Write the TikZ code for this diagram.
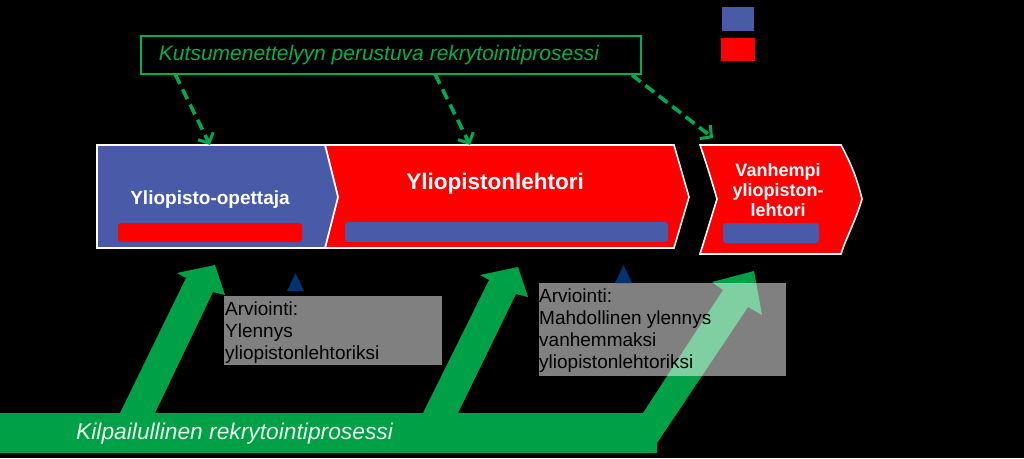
\documentclass[tikz,border=0pt]{standalone}
\usepackage{fontspec}
\setmainfont{Liberation Sans}
\usetikzlibrary{arrows.meta,calc}
\definecolor{pblue}{RGB}{72,90,168}
\definecolor{pred}{RGB}{255,0,0}
\definecolor{pgreen}{RGB}{0,160,70}
\definecolor{tgreen}{RGB}{0,176,80}
\definecolor{dgreen}{RGB}{0,168,80}
\definecolor{navy}{RGB}{0,51,112}
\definecolor{ktext}{RGB}{232,246,236}
\tikzset{
  chev/.style={draw=white, line width=1.6pt, line join=miter},
  bar/.style={rounded corners=3pt},
  whitelbl/.style={text=white, font=\bfseries, inner sep=0pt},
  dasharrow/.style={draw=dgreen, line width=3.6pt, dash pattern=on 11pt off 6pt,
     -{Straight Barb[length=8pt,width=17pt,line width=3pt]}},
  graybox/.style={fill=white, fill opacity=0.5, text opacity=1},
  boxtext/.style={anchor=north west, inner sep=0pt, align=left, text=black,
     font=\fontsize{19}{22}\selectfont},
  tri/.style={fill=navy}
}
\begin{document}
\begin{tikzpicture}[x=1pt,y=-1pt]
\fill[black] (0,0) rectangle (1024,458);
\useasboundingbox (0,0) rectangle (1024,458);

% top box
\node[draw=tgreen, line width=1.5pt, minimum width=500pt, minimum height=38pt,
      anchor=north west, inner sep=0pt] (kbox) at (140,35) {};
\node[text=tgreen, inner sep=0pt, font=\fontsize{21}{24}\selectfont\itshape] (ktxt) at (379,55)
  {Kutsumenettelyyn perustuva rekrytointiprosessi};

% legend
\fill[pblue] (722,7) rectangle (754,31);
\fill[pred] (721,38) rectangle (755,61);

% chevrons
\draw[chev, fill=pred] (325,145) -- (674,145) -- (689,197) -- (674,248) -- (325,248) -- (338,197) -- cycle;
\draw[chev, fill=pblue] (97,145) -- (325,145) -- (338,197) -- (325,248) -- (97,248) -- cycle;
\draw[chev, fill=pred] (700,145) -- (841,145) .. controls (852,165) and (858,182) .. (862,199)
   .. controls (856,220) and (846,238) .. (841,254) -- (700,254)
   .. controls (706,235) and (712,215) .. (717,199) .. controls (712,182) and (706,162) .. (700,145) -- cycle;
\coordinate (c1) at (210,145);
\coordinate (c2) at (470,145);
\coordinate (c3) at (713,138);

\fill[pred, bar] (118,223) rectangle (302,242);
\fill[pblue, bar] (345,222) rectangle (668,242);
\fill[pblue, bar] (723,223) rectangle (819,243);

\node[whitelbl, font=\fontsize{19}{22}\selectfont\bfseries] (l1) at (210,200) {Yliopisto-opettaja};
\node[whitelbl, font=\fontsize{22.5}{26}\selectfont\bfseries] (l2) at (495,184) {Yliopistonlehtori};
\node[whitelbl, align=center, font=\fontsize{18}{20}\selectfont\bfseries] (l3) at (778,190)
  {Vanhempi\\yliopiston-\\lehtori};

% dashed arrows
\coordinate (s1) at (175,74);
\coordinate (s2) at (435,74);
\coordinate (s3) at (632,75);
\draw[dasharrow] (s1) -- (c1);
\draw[dasharrow] (s2) -- (c2);
\draw[dasharrow] (s3) -- (c3);

% green recruitment arrow
\fill[pgreen] (0,413) -- (120,413) -- (186,278) -- (177,273) -- (215,265) -- (225,295) -- (213,292) -- (155,413)
  -- (423,413) -- (489,280) -- (480,275) -- (518,267) -- (528,297) -- (516,294) -- (458,413)
  -- (643,413) -- (723,290) -- (712,282) -- (754,271) -- (762,315) -- (748,307) -- (657,443)
  -- (657,453) -- (0,453) -- cycle;
\node[anchor=base west, inner sep=0pt, text=ktext, font=\fontsize{22.8}{26}\selectfont\itshape] (ktl) at (76,439)
  {Kilpailullinen rekrytointiprosessi};

% evaluation boxes
\fill[graybox] (224,296) rectangle (442,365);
\fill[graybox] (539,283) rectangle (786,376);
\node[boxtext] (e1) at (225,299.6) {\strut Arviointi:\\Ylennys\\yliopistonlehtoriksi};
\node[boxtext] (e2) at (539,286.6) {\strut Arviointi:\\Mahdollinen ylennys\\vanhemmaksi\\yliopistonlehtoriksi};

% triangles
\fill[tri] (287,291) -- (304,291) -- (295.5,273) -- cycle;
\fill[tri] (615,283) -- (632,283) -- (623.5,265) -- cycle;
\end{tikzpicture}
\end{document}
